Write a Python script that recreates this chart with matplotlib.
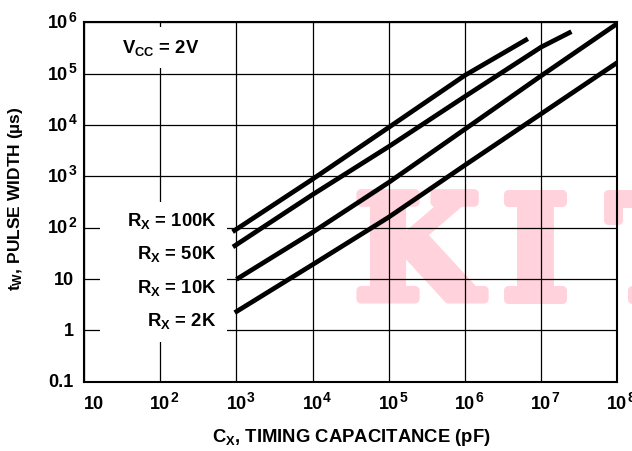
import matplotlib
matplotlib.use('Agg')
import matplotlib.pyplot as plt
import matplotlib.patheffects as pe
from matplotlib.patches import Rectangle
from matplotlib.ticker import NullLocator
from matplotlib.font_manager import FontProperties

plt.rcParams['font.family'] = ['Liberation Sans', 'DejaVu Sans']
plt.rcParams['font.weight'] = 'bold'
plt.rcParams['mathtext.fontset'] = 'custom'
for k in ['rm', 'it', 'bf', 'sf']:
    plt.rcParams['mathtext.' + k] = 'Liberation Sans:bold'

# ---- data ----
cap_100k = [890, 1e4, 1e5, 1e6, 6.7e6]
pw_100k = [83, 880, 9000, 9.3e4, 4.8e5]
cap_50k = [900, 1e4, 1e5, 1e6, 1e7, 2.5e7]
pw_50k = [42, 440, 3800, 3.6e4, 3.3e5, 6.6e5]
cap_10k = [1e3, 1e4, 1e5, 1e6, 1e7, 1e8]
pw_10k = [9.8, 81, 760, 8300, 9.1e4, 9.5e5]
cap_2k = [950, 1e4, 1e5, 1e6, 1e7, 1e8]
pw_2k = [2.2, 19, 160, 1650, 1.65e4, 1.65e5]
series_labels = ['R$_X$ = 100K', 'R$_X$ = 50K', 'R$_X$ = 10K', 'R$_X$ = 2K']

x_tick_values = [1e1, 1e2, 1e3, 1e4, 1e5, 1e6, 1e7, 1e8]
x_tick_bases = ['10'] * 8
x_tick_exps = [None, '2', '3', '4', '5', '6', '7', '8']
y_tick_values = [0.1, 1, 10, 1e2, 1e3, 1e4, 1e5, 1e6]
y_tick_bases = ['0.1', '1', '10', '10', '10', '10', '10', '10']
y_tick_exps = [None, None, None, '2', '3', '4', '5', '6']

x_label = 'C$_X$, TIMING CAPACITANCE (pF)'
y_label = 't$_W$, PULSE WIDTH (µs)'
cond_label = 'V$_{CC}$ = 2V'
watermark_letters = ['K', 'I', 'T']

W, H = 632, 451
PT = 0.72  # points per pixel at dpi 100
fig = plt.figure(figsize=(W / 100, H / 100), dpi=100)
L, R, T, B = 84.1, 617.3, 22.4, 381.5
ax = fig.add_axes([L / W, 1 - B / H, (R - L) / W, (B - T) / H])
ax.set_xscale('log')
ax.set_yscale('log')
ax.set_xlim(x_tick_values[0], x_tick_values[-1])
ax.set_ylim(y_tick_values[0], y_tick_values[-1])
ax.set_xticks(x_tick_values)
ax.set_yticks(y_tick_values)
ax.xaxis.set_minor_locator(NullLocator())
ax.yaxis.set_minor_locator(NullLocator())
ax.tick_params(length=0, labelbottom=False, labelleft=False)
ax.set_axisbelow(True)
ax.grid(True, color='black', lw=0.9)
for s in ax.spines.values():
    s.set_linewidth(1.5)

# white label backgrounds that interrupt the grid
ax.add_patch(Rectangle((0.030, 0.110), 0.238, 0.390, transform=ax.transAxes,
                       fc='white', ec='none', zorder=1))
ax.add_patch(Rectangle((0.049, 0.873), 0.187, 0.113, transform=ax.transAxes,
                       fc='white', ec='none', zorder=1))

for c, t in [(cap_100k, pw_100k), (cap_50k, pw_50k), (cap_10k, pw_10k), (cap_2k, pw_2k)]:
    ax.plot(c, t, color='black', lw=3.4, solid_capstyle='butt', zorder=3)

# pink slab-serif watermark behind the grid
WM_COLOR = '#ffd2dc'
wm_font = FontProperties(family='DejaVu Serif', weight='bold', size=104)
for letter, xc in zip(watermark_letters, [417, 535, 660]):
    ax.text(xc / W, 1 - 299 / H, letter, transform=fig.transFigure, fontproperties=wm_font,
            color=WM_COLOR, ha='center', va='baseline', zorder=0.2, clip_on=False,
            path_effects=[pe.withStroke(linewidth=6.5, foreground=WM_COLOR)])

FS = 13.0
BASE_W = 1.112 * FS  # width of "10" in points
# x tick labels
for i, (v, b, e) in enumerate(zip(x_tick_values, x_tick_bases, x_tick_exps)):
    dx = 0 if i == 0 else -10 * PT
    ax.annotate(b, xy=(v, 0), xycoords=('data', 'axes fraction'),
                xytext=(dx, -27.5 * PT), textcoords='offset points',
                ha='left', va='baseline', fontsize=FS, annotation_clip=False)
    if e:
        ax.annotate(e, xy=(v, 0), xycoords=('data', 'axes fraction'),
                    xytext=(dx + BASE_W + 0.2, -27.5 * PT + 4.8), textcoords='offset points',
                    ha='left', va='baseline', fontsize=10, annotation_clip=False)
# y tick labels
for v, b, e in zip(y_tick_values, y_tick_bases, y_tick_exps):
    if e:
        ax.annotate(b, xy=(0, v), xycoords=('axes fraction', 'data'),
                    xytext=(-11.6, -5.8 * PT), textcoords='offset points',
                    ha='right', va='baseline', fontsize=FS, annotation_clip=False)
        ax.annotate(e, xy=(0, v), xycoords=('axes fraction', 'data'),
                    xytext=(-11.2, -5.8 * PT + 4.8), textcoords='offset points',
                    ha='left', va='baseline', fontsize=10, annotation_clip=False)
    else:
        ax.annotate(b, xy=(0, v), xycoords=('axes fraction', 'data'),
                    xytext=(-7.5, -5.8 * PT), textcoords='offset points',
                    ha='right', va='baseline', fontsize=FS, annotation_clip=False)

LFS = 13.3
# series labels
for lab, yb in zip(series_labels, [226, 259, 292.5, 326]):
    fig.text(216.5 / W, 1 - yb / H, lab, ha='right', va='baseline', fontsize=LFS)
fig.text(122 / W, 1 - 53.5 / H, cond_label, ha='left', va='baseline', fontsize=LFS)

fig.text(16 / W, 1 - 199 / H, y_label, rotation=90, ha='center', va='center', fontsize=12.5)
fig.text(351 / W, 1 - 437 / H, x_label, ha='center', va='center', fontsize=LFS)

fig.savefig('out.png', dpi=100)
